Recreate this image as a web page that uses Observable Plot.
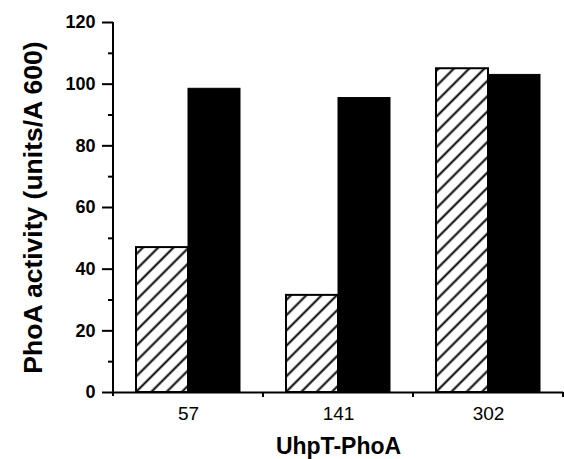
<!DOCTYPE html>
<html>
<head>
<meta charset="utf-8">
<script src="https://cdn.jsdelivr.net/npm/d3@7"></script>
<script src="https://cdn.jsdelivr.net/npm/@observablehq/plot@0.6"></script>
<style>
  html, body { margin: 0; padding: 0; background: #fff; }
  #chart svg { display: block; }
</style>
</head>
<body>
<svg width="0" height="0" style="position:absolute">
  <defs>
    <pattern id="hatch" patternUnits="userSpaceOnUse" width="10.8" height="10.8" patternTransform="rotate(45)">
      <rect width="10.8" height="10.8" fill="white"></rect>
      <line x1="5.4" y1="0" x2="5.4" y2="10.8" stroke="black" stroke-width="2"></line>
    </pattern>
  </defs>
</svg>
<div id="chart"></div>
<script>
const groups = ["57", "141", "302"];
const seriesKeys = ["hatched", "solid"];
const hatchedValues = [47, 31.5, 105];
const solidValues = [98.5, 95.5, 103];
const majorTicks = [0, 20, 40, 60, 80, 100, 120];
const minorTicks = [10, 30, 50, 70, 90, 110];
const yLabel = "PhoA activity (units/A 600)";
const xLabel = "UhpT-PhoA";

const hatchedRows = groups.map((g, i) => ({group: g, series: "hatched", value: hatchedValues[i]}));
const solidRows = groups.map((g, i) => ({group: g, series: "solid", value: solidValues[i]}));

const plot = Plot.plot({
  width: 564,
  height: 459,
  marginLeft: 112,
  marginRight: 1,
  marginTop: 22,
  marginBottom: 67,
  style: {fontFamily: "'Liberation Sans', Arial, sans-serif", background: "white", color: "black", overflow: "visible"},
  fx: {domain: groups, padding: 0},
  x: {domain: seriesKeys, paddingInner: 0, paddingOuter: 0.44, axis: null},
  y: {domain: [0, 120], axis: null},
  marks: [
    Plot.barY(hatchedRows, {fx: "group", x: "series", y: "value", fill: "url(#hatch)", stroke: "black", strokeWidth: 2}),
    Plot.barY(solidRows, {fx: "group", x: "series", y: "value", fill: "black", stroke: "black", strokeWidth: 1}),
    Plot.ruleY([0], {strokeWidth: 2}),
    Plot.axisY(majorTicks, {anchor: "left", tickSize: 11, tickPadding: 7, fontSize: 18, fontWeight: "bold", strokeWidth: 2, label: null}),
    Plot.axisY(minorTicks, {anchor: "left", tickSize: 5, text: null, strokeWidth: 2, label: null}),
    Plot.axisY({anchor: "left", ticks: [], tickSize: 0, label: yLabel, labelAnchor: "center", labelArrow: "none", labelOffset: 90, fontSize: 26.5, fontWeight: "bold"}),
    Plot.axisFx({anchor: "bottom", tickSize: 0, tickPadding: 14, fontSize: 19, label: null}),
    Plot.axisFx({anchor: "bottom", ticks: [], tickSize: 0, label: xLabel, labelAnchor: "center", labelArrow: "none", labelOffset: 61, dx: -6, fontSize: 23, fontWeight: "bold", fontFamily: "'Liberation Sans Narrow', 'Liberation Sans', Arial, sans-serif"})
  ]
});

document.getElementById("chart").appendChild(plot);

// Axis line and facet boundary ticks, positioned from Plot's own scales
const svg = d3.select(plot);
const fxScale = plot.scale("fx");
const yScale = plot.scale("y");
const y0 = yScale.apply(0), yTop = yScale.apply(120);
const left = fxScale.apply(groups[0]);
svg.append("line").attr("x1", left).attr("x2", left).attr("y1", yTop).attr("y2", y0 + 4)
  .attr("stroke", "black").attr("stroke-width", 2);
groups.forEach(g => {
  const xr = fxScale.apply(g) + fxScale.bandwidth;
  svg.append("line").attr("x1", xr).attr("x2", xr).attr("y1", y0).attr("y2", y0 + 5)
    .attr("stroke", "black").attr("stroke-width", 2);
});
</script>
</body>
</html>
